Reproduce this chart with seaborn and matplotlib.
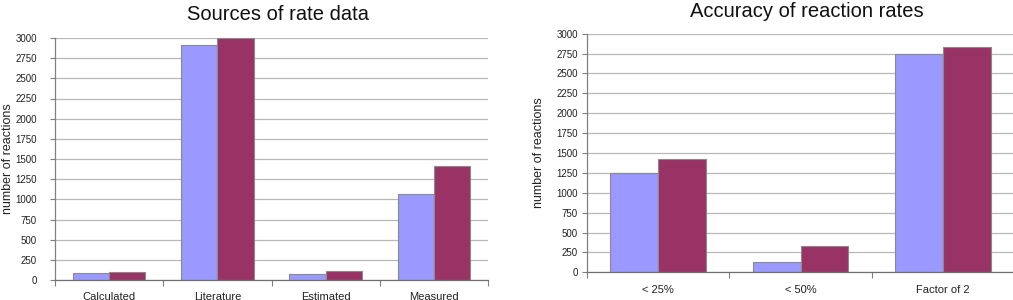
import matplotlib
matplotlib.use("Agg")
import matplotlib.pyplot as plt
import seaborn as sns
import pandas as pd
from matplotlib.ticker import FixedLocator

sns.set_theme(style="white")
plt.rcParams['font.family'] = ['Liberation Sans', 'DejaVu Sans']

# ---- data ----
source_categories = ["Calculated", "Literature", "Estimated", "Measured"]
source_series_a = [85, 2910, 70, 1060]
source_series_b = [95, 2995, 110, 1410]

accuracy_categories = ["< 25%", "< 50%", "Factor of 2"]
accuracy_series_a = [1245, 135, 2745]
accuracy_series_b = [1430, 335, 2835]

series_names = ["A", "B"]
yticks = list(range(0, 3001, 250))
colors = ["#9999FF", "#993366"]

W, H = 1013, 300
fig = plt.figure(figsize=(W / 100, H / 100), dpi=100)

def px_axes(x0, x1, ytop, ybot):
    return fig.add_axes([x0 / W, (H - ybot) / H, (x1 - x0) / W, (ybot - ytop) / H])

ax1 = px_axes(55, 488, 38, 280)
ax2 = px_axes(587, 1014, 33.7, 272.3)

tick_font = ['Liberation Sans', 'DejaVu Sans']

def draw(ax, cats, a, b, title, tpos, ylab_x, ylabel_pad, xlab_pad):
    df = pd.DataFrame({
        "category": cats * 2,
        "value": list(a) + list(b),
        "series": [series_names[0]] * len(cats) + [series_names[1]] * len(cats),
    })
    sns.barplot(data=df, x="category", y="value", hue="series", order=cats,
                hue_order=series_names, palette=colors, width=0.67, gap=0,
                edgecolor="#8a8a8a", linewidth=0.8, ax=ax, legend=False,
                saturation=1)
    n = len(cats)
    ax.set_xlim(-0.5, n - 0.5)
    ax.set_ylim(0, 3000)
    ax.set_yticks(yticks)
    ax.set_yticklabels([str(t) for t in yticks], family=tick_font, fontsize=7)
    ax.yaxis.grid(True, color="#b8b8b8", linewidth=0.9)
    ax.set_axisbelow(True)
    for s in ["top", "right"]:
        ax.spines[s].set_visible(False)
    ax.spines["left"].set_color("#808080")
    ax.spines["bottom"].set_color("#707070")
    ax.spines["left"].set_linewidth(0.9)
    ax.spines["bottom"].set_linewidth(0.9)
    ax.tick_params(axis="y", which="major", left=True, length=3.6, width=0.8,
                   color="#808080", pad=ylabel_pad, labelcolor="#222222")
    ax.set_xticks(range(n))
    ax.set_xticklabels(cats, family=tick_font, fontsize=8, color="#222222")
    ax.tick_params(axis="x", which="major", length=0, pad=xlab_pad)
    ax.xaxis.set_minor_locator(FixedLocator([i - 0.5 for i in range(n + 1)]))
    ax.tick_params(axis="x", which="minor", bottom=True, length=4, width=0.8,
                   color="#808080")
    ax.set_xlabel("")
    ax.set_ylabel("number of reactions", fontsize=9, va="center", color="#222222")
    ax.yaxis.set_label_coords(ylab_x, 0.5)
    ax.set_title(title, fontsize=14.5, x=tpos[0], y=tpos[1], va="center",
                 color="#111111", pad=0)

draw(ax1, source_categories, source_series_a, source_series_b,
     "Sources of rate data", (0.515, 1.099), (8 - 55) / 433, 9.4, 8.5)
draw(ax2, accuracy_categories, accuracy_series_a, accuracy_series_b,
     "Accuracy of reaction rates", (0.514, 1.095), (539 - 587) / 427, 2.9, 9)

fig.savefig("out.png", dpi=100)
